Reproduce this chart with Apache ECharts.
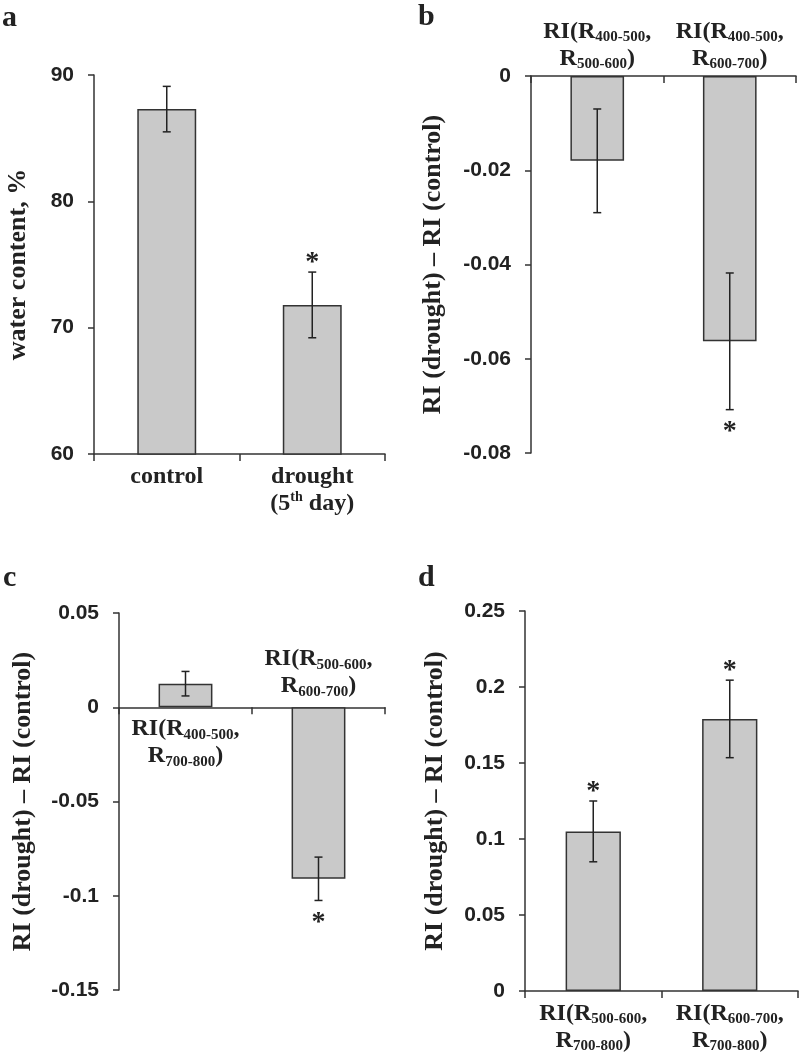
<!DOCTYPE html>
<html>
<head>
<meta charset="utf-8">
<script src="https://cdn.jsdelivr.net/npm/echarts@6/dist/echarts.min.js"></script>
<style>
  html, body { margin: 0; background: #fff; }
  #chart { width: 800px; height: 1054px; }
</style>
</head>
<body>
<div id="chart"></div>
<script>
// a: leaf water content
const catA = ['control', 'drought\n(5{sup|th} day)'];
const meanA = [87.3, 71.8];
const errA = [1.8, 2.6];
const sigA = [0, 1];

// b
const catB = ['RI(R{sub|400-500},\nR{sub|500-600})', 'RI(R{sub|400-500},\nR{sub|600-700})'];
const meanB = [-0.018, -0.0563];
const errB = [0.011, 0.0145];
const sigB = [0, 1];

// c (labels sit on the side of the zero line away from the bar)
const catC = ['RI(R{sub|400-500},\nR{sub|700-800})', 'RI(R{sub|500-600},\nR{sub|600-700})'];
const meanC = [0.0125, -0.091];
const errC = [0.0065, 0.0115];
const sigC = [0, 1];
const sideC = ['bottom', 'top'];

// d
const catD = ['RI(R{sub|500-600},\nR{sub|700-800})', 'RI(R{sub|600-700},\nR{sub|700-800})'];
const meanD = [0.105, 0.179];
const errD = [0.02, 0.0255];
const sigD = [1, 1];

const nameA = 'water content, %';
const nameRI = 'RI (drought) \u2013 RI (control)';

const SERIF = '"Liberation Serif", "Times New Roman", serif';
const SANS = '"Liberation Sans", Arial, sans-serif';
const INK = '#222';
const AXIS = '#333';

const rich = {
    sub: { fontFamily: SERIF, fontWeight: 'bold', fontSize: 15, lineHeight: 18, verticalAlign: 'bottom', color: INK },
    sup: { fontFamily: SERIF, fontWeight: 'bold', fontSize: 14, lineHeight: 20, verticalAlign: 'top', color: INK }
};
const catFont = { fontFamily: SERIF, fontWeight: 'bold', fontSize: 24, lineHeight: 27, color: INK, rich: rich };

function yAxis(gi, min, max, step, name, gap) {
    return {
        type: 'value', gridIndex: gi, min: min, max: max, interval: step,
        name: name, nameLocation: 'middle', nameGap: gap,
        nameTextStyle: { fontFamily: SERIF, fontWeight: 'bold', fontSize: 26, color: INK },
        axisLine: { show: true, lineStyle: { color: AXIS, width: 1.5 } },
        axisTick: { show: true, length: 6, lineStyle: { color: AXIS, width: 1.5 } },
        axisLabel: { margin: 20, fontFamily: SANS, fontWeight: 'bold', fontSize: 21, color: INK, showMinLabel: true, showMaxLabel: true },
        splitLine: { show: false }
    };
}

function xAxis(gi, cats, position, margin, opts) {
    opts = opts || {};
    return {
        type: 'category', gridIndex: gi, data: cats, position: position,
        axisLine: { show: true, onZero: true, lineStyle: { color: AXIS, width: 1.5 } },
        axisTick: { show: true, length: 7, inside: !!opts.tickInside, lineStyle: { color: AXIS, width: 1.5 } },
        axisLabel: Object.assign({ show: !opts.noLabels, interval: 0, margin: margin }, catFont),
        splitLine: { show: false }
    };
}

function bars(xi, yi, mean, side) {
    const data = side
        ? mean.map((v, i) => ({ value: v, label: { show: true, position: side[i] } }))
        : mean;
    return {
        type: 'bar', xAxisIndex: xi, yAxisIndex: yi, data: data, barWidth: '40.5%', silent: true,
        itemStyle: { color: '#c9c9c9', borderColor: AXIS, borderWidth: 1.5 },
        label: Object.assign({ show: false, distance: 8, formatter: p => p.name }, catFont)
    };
}

function errorBars(xi, yi, mean, err, sig) {
    return {
        type: 'custom', xAxisIndex: xi, yAxisIndex: yi, z: 5, silent: true,
        data: mean.map((m, i) => [i, m, err[i], sig[i]]),
        encode: { x: 0, y: 1 },
        renderItem: (params, api) => {
            const m = api.value(1), e = api.value(2);
            const hi = api.coord([api.value(0), m + e]);
            const lo = api.coord([api.value(0), m - e]);
            const x = hi[0], w = 4;
            const st = { stroke: INK, lineWidth: 1.5 };
            const kids = [
                { type: 'line', shape: { x1: x, y1: hi[1], x2: x, y2: lo[1] }, style: st },
                { type: 'line', shape: { x1: x - w, y1: hi[1], x2: x + w, y2: hi[1] }, style: st },
                { type: 'line', shape: { x1: x - w, y1: lo[1], x2: x + w, y2: lo[1] }, style: st }
            ];
            if (api.value(3)) {
                const up = m >= 0;
                kids.push({
                    type: 'text', x: x, y: up ? hi[1] - 9 : lo[1] + 22,
                    style: { text: '*', font: 'bold 28px ' + SERIF, fill: INK, align: 'center', verticalAlign: 'middle' }
                });
            }
            return { type: 'group', children: kids };
        }
    };
}

function letter(t, x, y) {
    return { type: 'text', x: x, y: y, style: { text: t, font: 'bold 30px ' + SERIF, fill: INK, verticalAlign: 'top' } };
}

const chart = echarts.init(document.getElementById('chart'));
chart.setOption({
    backgroundColor: '#fff',
    animation: false,
    grid: [
        { left: 94, top: 75, width: 291, height: 379, outerBoundsMode: 'none' },
        { left: 531, top: 76, width: 265, height: 377, outerBoundsMode: 'none' },
        { left: 119, top: 613, width: 266, height: 377, outerBoundsMode: 'none' },
        { left: 525, top: 611, width: 273, height: 380, outerBoundsMode: 'none' }
    ],
    xAxis: [
        xAxis(0, catA, 'bottom', 9),
        xAxis(1, catB, 'top', 4, { tickInside: true }),
        xAxis(2, catC, 'bottom', 8, { noLabels: true }),
        xAxis(3, catD, 'bottom', 9)
    ],
    yAxis: [
        yAxis(0, 60, 90, 10, nameA, 63),
        yAxis(1, -0.08, 0, 0.02, nameRI, 85),
        yAxis(2, -0.15, 0.05, 0.05, nameRI, 83),
        yAxis(3, 0, 0.25, 0.05, nameRI, 77)
    ],
    series: [
        bars(0, 0, meanA), errorBars(0, 0, meanA, errA, sigA),
        bars(1, 1, meanB), errorBars(1, 1, meanB, errB, sigB),
        bars(2, 2, meanC, sideC), errorBars(2, 2, meanC, errC, sigC),
        bars(3, 3, meanD), errorBars(3, 3, meanD, errD, sigD)
    ],
    graphic: [
        letter('a', 2, 3),
        letter('b', 418, 2),
        letter('c', 3, 563),
        letter('d', 418, 563)
    ]
});
</script>
</body>
</html>
